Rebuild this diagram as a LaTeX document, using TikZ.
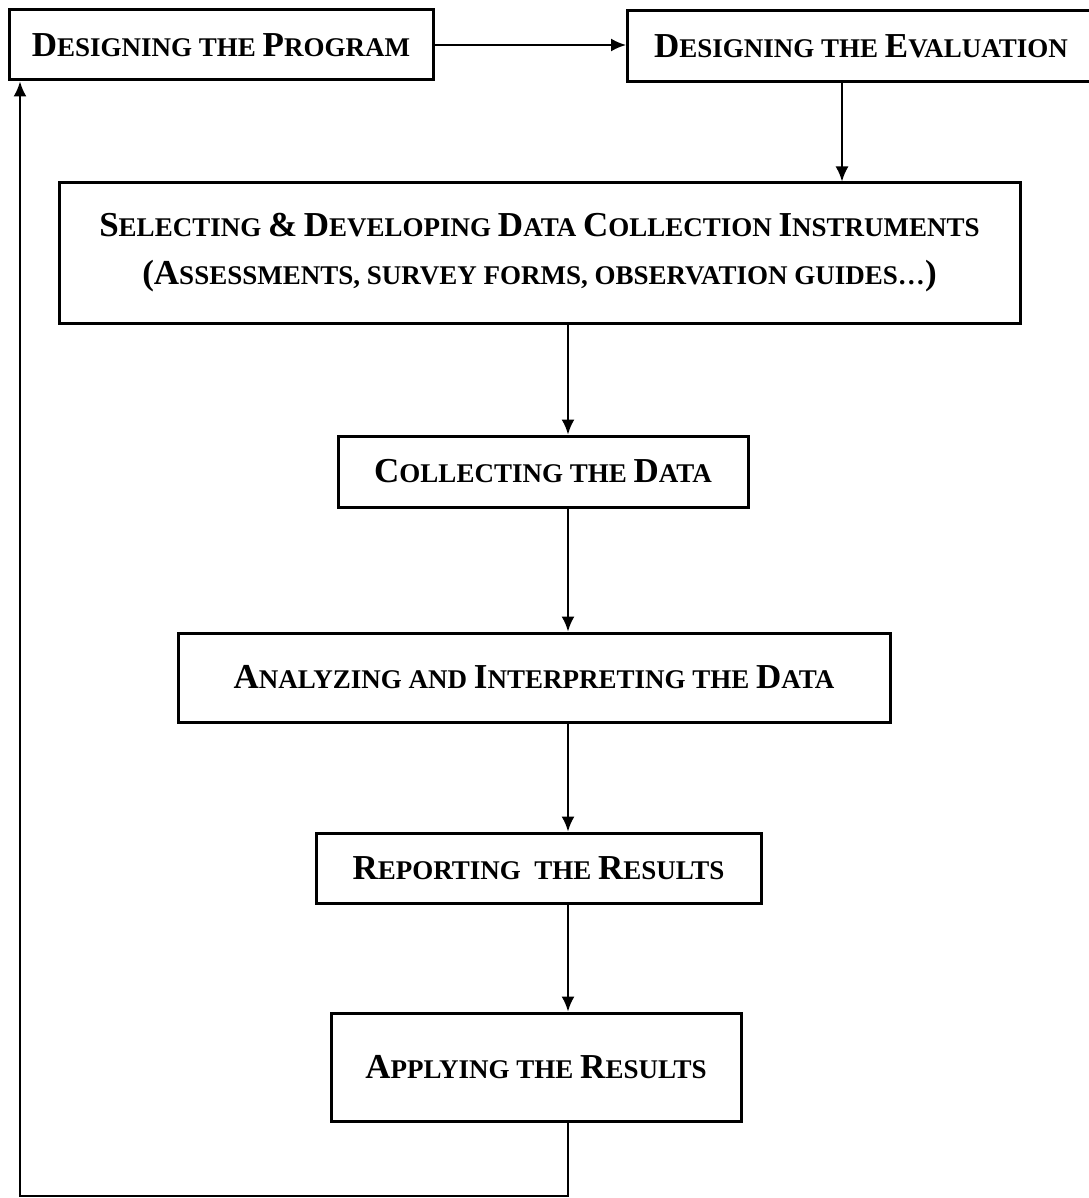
\documentclass[tikz,border=0pt]{standalone}
\usepackage{fontspec}
\setmainfont{Liberation Serif}
\usetikzlibrary{arrows.meta}

\newcommand{\ini}[1]{{\fontsize{35}{38}\selectfont #1}}

\begin{document}
\begin{tikzpicture}[x=1pt,y=-1pt,
  stage/.style={draw,line width=3pt,fill=white,inner sep=0pt,align=center,
    font=\bfseries\fontsize{27}{48}\selectfont},
  flow/.style={line width=2pt,-{Latex[length=15pt,width=13pt]}}]
\useasboundingbox (0,0) rectangle (1088,1198);
% stages
\node[stage,minimum width=424,minimum height=70] (prog) at (221,45) {\ini{D}ESIGNING THE \ini{P}ROGRAM};
\node[stage,minimum width=467,minimum height=71] (eval) at (861,46.5) {\ini{D}ESIGNING THE \ini{E}VALUATION};
\node[stage,minimum width=961,minimum height=140] (select) at (539.5,253)
  {\ini{S}ELECTING \ini{\&} \ini{D}EVELOPING \ini{D}ATA \ini{C}OLLECTION \ini{I}NSTRUMENTS\\
   \ini{(A}SSESSMENTS, SURVEY FORMS, OBSERVATION GUIDES\ldots\ini{)}};
\node[stage,minimum width=410,minimum height=71] (collect) at (543,471.5) {\ini{C}OLLECTING THE \ini{D}ATA};
\node[stage,minimum width=712,minimum height=89] (analyze) at (534,677.5) {\ini{A}NALYZING AND \ini{I}NTERPRETING THE \ini{D}ATA};
\node[stage,minimum width=445,minimum height=70] (report) at (538.5,868) {\ini{R}EPORTING ~THE \ini{R}ESULTS};
\node[stage,minimum width=410,minimum height=108] (apply) at (536,1067) {\ini{A}PPLYING THE \ini{R}ESULTS};
% connectors
\coordinate (spine) at (568,0);
\coordinate (back) at (20,1196);
\draw[flow] (prog.east) -- (prog.east -| eval.west);
\draw[flow] ([xshift=-19pt]eval.south) -- ([xshift=-19pt]eval.south |- select.north);
\draw[flow] (select.south -| spine) -- (collect.north -| spine);
\draw[flow] (collect.south -| spine) -- (analyze.north -| spine);
\draw[flow] (analyze.south -| spine) -- (report.north -| spine);
\draw[flow] (report.south -| spine) -- (apply.north -| spine);
\draw[flow] (apply.south -| spine) |- (back) -- (back |- prog.south);
\end{tikzpicture}
\end{document}
